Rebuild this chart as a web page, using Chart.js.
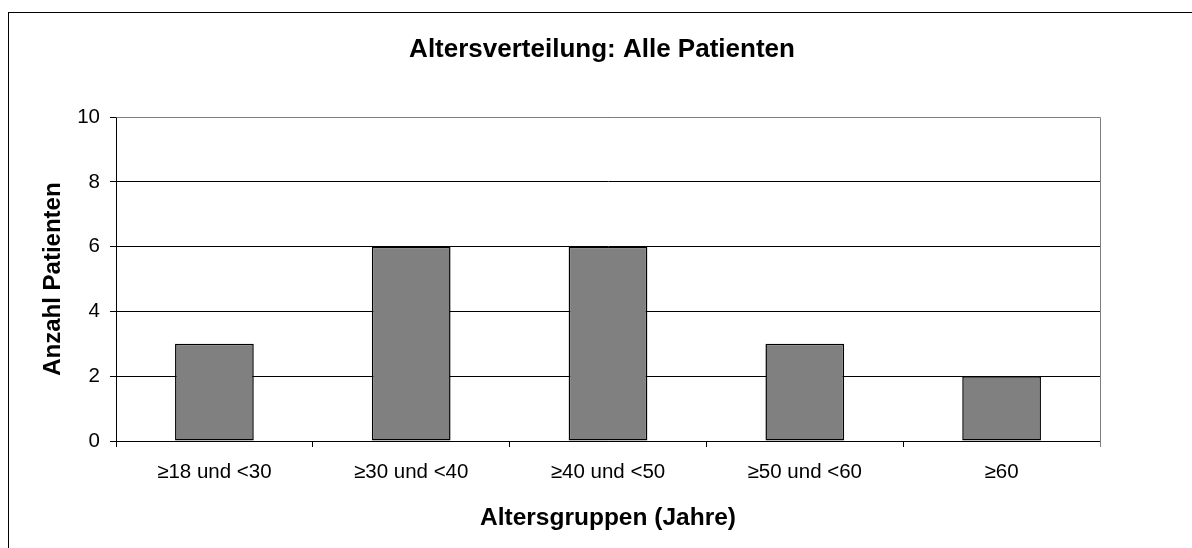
<!DOCTYPE html>
<html>
<head>
<meta charset="utf-8">
<script src="https://cdn.jsdelivr.net/npm/chart.js@4.4.1/dist/chart.umd.min.js"></script>
<style>
  html, body { margin: 0; padding: 0; background: #fff; overflow: hidden; }
  #frame { position: absolute; left: 8px; top: 12px; width: 2000px; height: 2000px; border: 1px solid #000; }
  #wrap { position: absolute; left: 0; top: 0; width: 1192px; height: 548px; }
</style>
</head>
<body>
<div id="frame"></div>
<div id="wrap"><canvas id="chart" width="1192" height="548"></canvas></div>
<script>
  const categories = ["\u226518 und <30", "\u226530 und <40", "\u226540 und <50", "\u226550 und <60", "\u226560"];
  const patientCounts = [3, 6, 6, 3, 2];
  const yTicks = [0, 2, 4, 6, 8, 10];

  const chartTitle = "Altersverteilung: Alle Patienten";
  const xTitle = "Altersgruppen (Jahre)";
  const yTitle = "Anzahl Patienten";

  // gray border on top/right of the plot area, like the original
  const plotBorder = {
    id: "plotBorder",
    beforeDatasetsDraw(chart) {
      const { ctx, chartArea: a } = chart;
      ctx.save();
      ctx.strokeStyle = "#808080";
      ctx.lineWidth = 1;
      ctx.beginPath();
      ctx.moveTo(Math.round(a.left) + 0.5, Math.round(a.top) + 0.5);
      ctx.lineTo(Math.round(a.right) + 0.5, Math.round(a.top) + 0.5);
      ctx.lineTo(Math.round(a.right) + 0.5, Math.round(a.bottom) + 6);
      ctx.stroke();
      ctx.restore();
    },
  };

  const font = "'Liberation Sans', Arial, sans-serif";

  new Chart(document.getElementById("chart"), {
    type: "bar",
    data: {
      labels: categories,
      datasets: [{
        data: patientCounts,
        backgroundColor: "#808080",
        borderColor: "#000",
        borderWidth: 1.5,
        borderSkipped: false,
        categoryPercentage: 0.8,
        barPercentage: 0.5,
      }],
    },
    plugins: [plotBorder],
    options: {
      responsive: false,
      animation: false,
      devicePixelRatio: 1,
      layout: { padding: { left: 12, right: 0, top: 0, bottom: 0 } },
      plugins: {
        legend: { display: false },
        tooltip: { enabled: false },
        title: {
          display: true,
          text: chartTitle,
          color: "#000",
          font: { family: font, size: 26, weight: "bold" },
          padding: { top: 34, bottom: 52 },
        },
      },
      scales: {
        x: {
          offset: true,
          grid: { offset: true, drawOnChartArea: false, color: "#000", tickLength: 6 },
          border: { color: "#000" },
          ticks: { color: "#000", font: { family: font, size: 20.5 }, padding: 13, maxRotation: 0 },
          title: {
            display: true,
            text: xTitle,
            color: "#000",
            font: { family: font, size: 24.5, weight: "bold" },
            padding: { top: 0, bottom: 15 },
          },
          afterFit: (s) => { s.height = 107; },
        },
        y: {
          min: 0,
          max: 10,
          afterBuildTicks: (s) => { s.ticks = yTicks.map((v) => ({ value: v })); },
          grid: { color: "#000", tickLength: 6 },
          border: { color: "#000" },
          ticks: { color: "#000", font: { family: font, size: 20.5 }, padding: 10 },
          title: {
            display: true,
            text: yTitle,
            color: "#000",
            font: { family: font, size: 24, weight: "bold" },
            padding: { top: 27, bottom: 0 },
          },
          afterFit: (s) => { s.width = 104; },
        },
        yr: {
          position: "right",
          min: 0,
          max: 10,
          grid: { display: false },
          border: { display: false },
          ticks: { display: false },
          afterFit: (s) => { s.width = 92; },
        },
      },
    },
  });
</script>
</body>
</html>
